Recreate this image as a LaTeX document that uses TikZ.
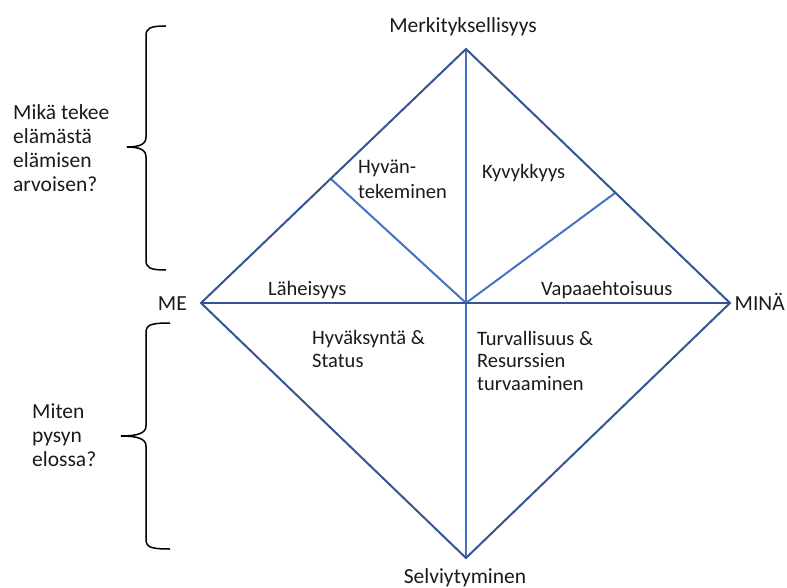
\documentclass[tikz,border=0pt]{standalone}
\usepackage{fontspec}
\setmainfont{Carlito}
\definecolor{darkline}{RGB}{52,84,148}
\definecolor{lightline}{RGB}{70,114,196}
\definecolor{txt}{RGB}{26,26,26}
\begin{document}
\begin{tikzpicture}[x=1pt,y=-1pt,
  lbl/.style={inner sep=0pt,text=txt,font=\fontsize{21.5}{24}\selectfont},
  inlbl/.style={inner sep=0pt,text=txt,align=left,anchor=base west,font=\fontsize{20.5}{22.5}\selectfont},
  outer/.style={draw=darkline,line width=2pt,line join=miter},
  inner/.style={draw=lightline,line width=2pt},
  bracestyle/.style={draw=black,line width=1.5pt}]
\useasboundingbox (0,0) rectangle (787,588);
\coordinate (T) at (466,49);
\coordinate (L) at (201,303);
\coordinate (R) at (730,303);
\coordinate (B) at (466,558);
\coordinate (C) at (466,303);
\coordinate (P1) at (331,179);
\coordinate (P2) at (615,193);
% inner light lines
\draw[inner] (C) -- (P1);
\draw[inner] (C) -- (P2);
\draw[inner] (T) -- (B);
% diamond and horizontal
\draw[outer] (T) -- (R) -- (B) -- (L) -- cycle;
\draw[outer] (L) -- (R);
% braces
\coordinate (b1t) at (166,26);
\coordinate (b1m) at (127,147);
\coordinate (b1b) at (166,270);
\draw[bracestyle] (b1t) .. controls (150,26) and (146,28) .. (146,36) -- (146,137) .. controls (146,144) and (140,147) .. (b1m)
  (b1m) .. controls (140,147) and (146,150) .. (146,157) -- (146,260) .. controls (146,268) and (150,270) .. (b1b);
\coordinate (b2t) at (170,323);
\coordinate (b2m) at (121,436);
\coordinate (b2b) at (170,549);
\draw[bracestyle] (b2t) .. controls (150,323) and (146,325) .. (146,333) -- (146,426) .. controls (146,433) and (138,436) .. (b2m)
  (b2m) .. controls (138,436) and (146,439) .. (146,446) -- (146,539) .. controls (146,547) and (150,549) .. (b2b);
% labels (anchor base = baseline of last line)
\node[lbl,anchor=base] (top) at (463,33) {Merkityksellisyys};
\node[lbl,anchor=base] (bot) at (465,583) {Selviytyminen};
\node[lbl,anchor=base east] (me) at (187,310) {ME};
\node[lbl,anchor=base east] (mina) at (785,310) {MINÄ};
\node[lbl,align=left,anchor=base west] (q1) at (13,192) {Mikä tekee\\elämästä\\elämisen\\arvoisen?};
\node[lbl,align=left,anchor=base west] (q2) at (32,466) {Miten\\pysyn\\elossa?};
\node[inlbl,font=\fontsize{20.5}{25}\selectfont] (hyv) at (358,199) {Hyvän-\\tekeminen};
\node[inlbl] (kyv) at (482,179) {Kyvykkyys};
\node[inlbl] (lah) at (268,295) {Läheisyys};
\node[inlbl] (vap) at (541,295) {Vapaaehtoisuus};
\node[inlbl] (hs) at (312,367) {Hyväksyntä \&\\Status};
\node[inlbl] (tr) at (477,390) {Turvallisuus \&\\Resurssien\\turvaaminen};
\end{tikzpicture}
\end{document}
